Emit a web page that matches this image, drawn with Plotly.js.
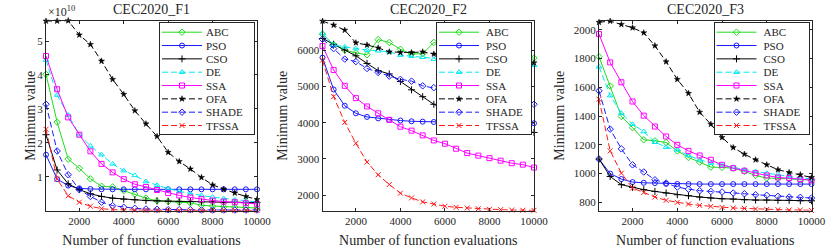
<!DOCTYPE html>
<html><head><meta charset="utf-8">
<script src="https://cdn.plot.ly/plotly-3.0.1.min.js"></script>
<style>html,body{margin:0;padding:0;background:#fff}</style>
</head><body><div id="chart" style="width:830px;height:248px"></div>
<script>
// ---------- data ----------
const evaluations = [500,1000,1500,2000,2500,3000,3500,4000,4500,5000,5500,6000,6500,7000,7500,8000,8500,9000,9500,10000];
const algorithms = ['ABC','PSO','CSO','DE','SSA','OFA','SHADE','TFSSA'];
const functionTitles = ['CEC2020_F1','CEC2020_F2','CEC2020_F3'];

// CEC2020_F1 (values in units of 1e10)
const f1ABC   = [4.02,2.61,1.52,1.25,0.94,0.72,0.70,0.59,0.49,0.37,0.29,0.27,0.25,0.23,0.16,0.13,0.12,0.11,0.10,0.08];
const f1PSO   = [1.65,0.93,0.74,0.66,0.64,0.63,0.63,0.63,0.63,0.63,0.63,0.63,0.63,0.63,0.63,0.63,0.63,0.63,0.63,0.63];
const f1CSO   = [2.24,1.20,0.79,0.62,0.50,0.42,0.37,0.34,0.32,0.30,0.29,0.28,0.27,0.27,0.26,0.26,0.25,0.25,0.24,0.24];
const f1DE    = [4.44,3.41,2.82,2.24,1.91,1.65,1.38,1.18,1.04,0.86,0.75,0.65,0.57,0.50,0.45,0.40,0.36,0.32,0.29,0.26];
const f1SSA   = [4.56,3.58,2.75,2.24,1.75,1.38,1.13,0.93,0.78,0.70,0.61,0.52,0.45,0.39,0.34,0.30,0.27,0.25,0.22,0.20];
const f1OFA   = [5.59,5.59,5.60,5.18,4.90,4.41,3.87,3.43,2.95,2.56,2.19,1.72,1.45,1.23,0.98,0.76,0.63,0.52,0.42,0.33];
const f1SHADE = [3.14,1.76,1.06,0.62,0.42,0.25,0.15,0.10,0.07,0.05,0.04,0.03,0.03,0.03,0.02,0.02,0.02,0.02,0.02,0.02];
const f1TFSSA = [2.40,0.93,0.44,0.25,0.13,0.06,0.03,0.02,0.015,0.01,0.01,0.01,0.01,0.01,0.01,0.01,0.01,0.01,0.01,0.01];
const f1Scale = 1e10;
const f1TickValues = [1,2,3,4,5];

// CEC2020_F2
const f2ABC   = [6450,6160,6010,5930,5880,6300,6220,6030,5900,5910,6220,6120,6060,6000,5950,5910,5880,5850,5820,5790];
const f2PSO   = [5800,4920,4470,4260,4160,4120,4080,4060,4040,4030,4020,4010,4005,4000,3995,3993,3990,3988,3986,3985];
const f2CSO   = [6330,6170,6010,5850,5640,5440,5350,5140,4910,4720,4510,4350,4220,4110,4010,3930,3870,3820,3770,3730];
const f2DE    = [6470,6150,6100,6050,6010,5990,5960,5870,5840,5810,5760,5730,5710,5690,5670,5650,5630,5620,5600,5590];
const f2SSA   = [6120,5460,5020,4680,4450,4260,4080,3890,3780,3650,3510,3420,3280,3160,3090,3020,2950,2880,2840,2760];
const f2OFA   = [6810,6700,6560,6210,6150,6070,5960,5940,5940,5960,5900,5870,5840,5810,5780,5750,5730,5700,5680,5660];
const f2SHADE = [6310,6050,5760,5690,5500,5390,5290,5200,5150,5020,4970,4900,4840,4780,4720,4670,4620,4580,4540,4510];
const f2TFSSA = [5730,4720,4010,3430,2910,2560,2290,2050,1920,1810,1750,1690,1660,1640,1620,1605,1595,1585,1578,1575];
const f2TickValues = [2000,3000,4000,5000,6000];

// CEC2020_F3
const f3ABC   = [1813,1609,1397,1320,1235,1228,1216,1158,1112,1080,1045,1043,1038,1015,987,969,969,964,957,957];
const f3PSO   = [1101,1000,962,941,936,934,929,928,927,927,927,927,927,927,927,927,927,927,927,927];
const f3CSO   = [1101,980,923,904,888,876,865,853,846,837,830,825,823,818,816,816,814,814,811,811];
const f3DE    = [1743,1542,1420,1343,1292,1218,1184,1165,1126,1096,1073,1061,1043,1027,1015,1003,992,980,969,964];
const f3SSA   = [1970,1773,1635,1501,1403,1327,1258,1200,1158,1126,1096,1061,1038,1020,1003,987,973,969,962,953];
const f3OFA   = [2052,2060,2037,2014,1979,1889,1778,1655,1558,1427,1343,1251,1181,1135,1096,1061,1027,1008,992,973];
const f3SHADE = [1575,1309,1172,1061,1011,957,934,906,892,881,876,872,865,860,853,849,842,837,835,830];
const f3TFSSA = [1517,1158,1003,899,869,837,814,800,788,779,772,765,761,758,754,751,749,747,747,744];
const f3TickValues = [800,1000,1200,1400,1600,1800,2000];

const xTickValues = [2000,4000,6000,8000,10000];

// ---------- styles ----------
const FONT = 'Liberation Serif, Times New Roman, serif';
const INK = '#262626';
const styles = {
  ABC:   {color:'#1fdc1f', dash:'solid', symbol:'diamond-open', size:5, lw:1},
  PSO:   {color:'#1a1aff', dash:'solid', symbol:'circle-open', size:5, lw:1},
  CSO:   {color:'#000000', dash:'solid', symbol:'cross-thin-open', size:5, lw:1},
  DE:    {color:'#00e8f0', dash:'6px,3px', symbol:'triangle-up-open', size:5, lw:1},
  SSA:   {color:'#ff00ff', dash:'solid', symbol:'square-open', size:5, lw:1},
  OFA:   {color:'#000000', dash:'6px,3px', symbol:'star', size:4.5, lw:0.5},
  SHADE: {color:'#1a1aff', dash:'6px,3px', symbol:'diamond-open', size:5, lw:1},
  TFSSA: {color:'#ff1a1a', dash:'6px,3px', symbol:'x-thin-open', size:5, lw:1}
};

const panelData = [
  {ABC:f1ABC,PSO:f1PSO,CSO:f1CSO,DE:f1DE,SSA:f1SSA,OFA:f1OFA,SHADE:f1SHADE,TFSSA:f1TFSSA},
  {ABC:f2ABC,PSO:f2PSO,CSO:f2CSO,DE:f2DE,SSA:f2SSA,OFA:f2OFA,SHADE:f2SHADE,TFSSA:f2TFSSA},
  {ABC:f3ABC,PSO:f3PSO,CSO:f3CSO,DE:f3DE,SSA:f3SSA,OFA:f3OFA,SHADE:f3SHADE,TFSSA:f3TFSSA}
];
const panelScale = [f1Scale, 1, 1];

// layout geometry (px)
const W = 830, H = 248;
const plotLeft  = [46, 322.5, 599];
const plotRight = [257, 534, 811.5];
const plotTop = 20.7, plotBottom = 210.7;
const yTitleX = [31, 283, 560];
const yRanges = [[0, 5.6e10], [1566, 6822], [742, 2063]];

const traces = [];
panelData.forEach((pd, p) => {
  algorithms.forEach(name => {
    const s = styles[name];
    traces.push({
      type:'scatter', mode:'lines+markers', name:name,
      x: evaluations,
      y: pd[name].map(v => v * panelScale[p]),
      xaxis: p === 0 ? 'x' : 'x' + (p+1),
      yaxis: p === 0 ? 'y' : 'y' + (p+1),
      legend: p === 0 ? 'legend' : 'legend' + (p+1),
      line:{color:s.color, width:1, dash:s.dash},
      marker:{symbol:s.symbol, size:s.size, color:s.color, line:{color:s.color, width:s.lw}},
      cliponaxis:false
    });
  });
});

function axisBase() {
  return {showline:true, linecolor:INK, linewidth:1, mirror:'ticks', ticks:'inside', ticklen:3,
          tickcolor:INK, tickwidth:1, showgrid:false, zeroline:false,
          tickfont:{family:FONT, size:11, color:INK}};
}

const layout = {
  width:W, height:H, margin:{l:0,r:0,t:0,b:0}, paper_bgcolor:'#fff', plot_bgcolor:'#fff',
  font:{family:FONT, color:INK}, showlegend:true, annotations:[]
};
const yTicks = [f1TickValues.map(v => v*f1Scale), f2TickValues, f3TickValues];
const yTickText = [f1TickValues.map(String), f2TickValues.map(String), f3TickValues.map(String)];
for (let p = 0; p < 3; p++) {
  const sx = p === 0 ? '' : String(p+1);
  const xa = axisBase();
  Object.assign(xa, {domain:[plotLeft[p]/W, plotRight[p]/W], range:[500,10000],
    tickvals:xTickValues, ticktext:xTickValues.map(String),
    anchor:'y'+sx, title:{text:'Number of function evaluations', font:{family:FONT,size:14,color:INK}, standoff:9}});
  const ya = axisBase();
  Object.assign(ya, {domain:[1-plotBottom/H, 1-plotTop/H], range:yRanges[p], anchor:'x'+sx,
    tickvals:yTicks[p], ticktext:yTickText[p]});
  layout['xaxis'+sx] = xa;
  layout['yaxis'+sx] = ya;
  layout['legend'+sx] = {x:(plotRight[p]-2)/W, xanchor:'right', y:1-(plotTop+1.5)/H, yanchor:'top',
    bgcolor:'#fff', bordercolor:INK, borderwidth:1, font:{family:FONT,size:11,color:INK},
    itemwidth:40, tracegroupgap:0, itemclick:false, itemdoubleclick:false};
  layout.annotations.push({text:functionTitles[p], xref:'paper', yref:'paper',
    x:(plotLeft[p]+plotRight[p])/2/W, y:1-10/H, xanchor:'center', yanchor:'middle', showarrow:false,
    font:{family:FONT,size:14,color:INK}});
  layout.annotations.push({text:'Minimum value', xref:'paper', yref:'paper', textangle:-90,
    x:yTitleX[p]/W, y:1-(plotTop+plotBottom)/2/H, xanchor:'center', yanchor:'middle', showarrow:false,
    font:{family:FONT,size:14,color:INK}});
}
layout.annotations.push({text:'×10<sup>10</sup>', xref:'paper', yref:'paper', x:plotLeft[0]/W, y:1-12/H,
  xanchor:'left', yanchor:'middle', showarrow:false, font:{family:FONT,size:12,color:INK}});

function compactLegends(gd) {
  const ids = ['legend','legend2','legend3'];
  ids.forEach((id, p) => {
    const g = gd.querySelector('g.' + id);
    if (!g) return;
    const boxW = 96, boxH = 113, rowH = 13.33, first = 10;
    const left = plotRight[p] - 2 - boxW, top = plotTop + 1.5;
    g.setAttribute('transform', 'translate(' + left + ',' + top + ')');
    const bg = g.querySelector('rect.bg');
    if (bg) { bg.setAttribute('width', boxW - 1); bg.setAttribute('height', boxH - 1); }
    g.querySelectorAll('g.traces').forEach((t, i) => {
      t.setAttribute('transform', 'translate(0,' + (first + i*rowH) + ')');
      t.querySelectorAll('path.js-line').forEach(l => l.setAttribute('d', 'M3,0h40'));
      t.querySelectorAll('g.legendpoints path.scatterpts').forEach(m => m.setAttribute('transform', 'translate(23,0)'));
      const txt = t.querySelector('text.legendtext');
      if (txt) txt.setAttribute('x', 47);
    });
  });
}

Plotly.newPlot('chart', traces, layout, {displayModeBar:false, staticPlot:true}).then(compactLegends);
</script></body></html>
